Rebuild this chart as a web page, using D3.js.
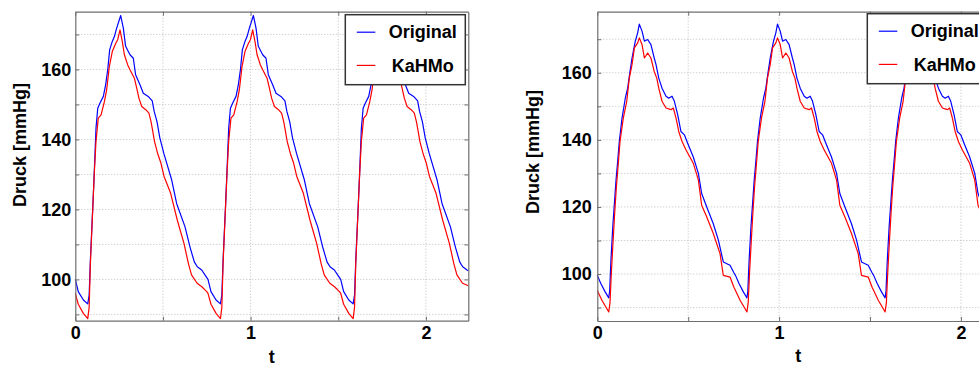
<!DOCTYPE html>
<html>
<head>
<meta charset="utf-8">
<script src="https://cdn.jsdelivr.net/npm/d3@7"></script>
<style>
  html, body { margin: 0; padding: 0; background: #fff; overflow: hidden; }
  svg { display: block; }
  text { font-family: "Liberation Sans", Arial, Helvetica, sans-serif; font-weight: bold; }
</style>
</head>
<body>
<svg id="chart" width="979" height="367"></svg>
<script>
// ---------------- DATA ----------------
const seriesNames = ["Original", "KaHMo"];
const xTickValues = [0, 0.5, 1, 1.5, 2];
const yTickValues = [90, 100, 110, 120, 130, 140, 150, 160, 170];
const xLabelText = "t";
const yLabelText = "Druck [mmHg]";

// Left panel – Original (blue)
const leftOriginalTime = [
  0.000,0.017,0.046,0.071,0.079,0.086,0.099,0.108,0.118,0.128,0.141,0.160,0.173,0.185,0.196,0.211,0.223,0.236,0.259,0.274,0.287,0.312,0.331,0.344,0.369,0.388,0.416,0.439,0.450,0.466,0.482,0.505,0.550,0.578,0.626,0.654,0.679,0.696,0.721,0.750,
  0.757,0.774,0.803,0.828,0.836,0.843,0.856,0.865,0.875,0.885,0.898,0.917,0.930,0.942,0.953,0.968,0.980,0.993,1.016,1.031,1.044,1.069,1.088,1.101,1.126,1.145,1.173,1.196,1.207,1.223,1.239,1.262,1.307,1.335,1.383,1.411,1.436,1.453,1.478,1.507,
  1.514,1.531,1.560,1.585,1.593,1.600,1.613,1.622,1.632,1.642,1.655,1.674,1.687,1.699,1.710,1.725,1.737,1.750,1.773,1.788,1.801,1.826,1.845,1.858,1.883,1.902,1.930,1.953,1.964,1.980,1.996,2.019,2.064,2.092,2.140,2.168,2.193,2.210,2.235,2.242
];
const leftOriginal = [
  100.0,96.5,94.1,93.0,95.5,105.5,119.8,130.3,143.2,148.9,150.4,152.3,155.6,159.9,165.6,168.0,169.4,171.8,175.4,171.8,166.6,164.2,163.2,158.5,155.6,153.2,152.3,151.0,148.0,145.1,140.5,136.0,128.4,121.7,115.0,109.3,105.0,103.6,102.7,100.5,
  100.0,96.5,94.1,93.0,95.5,105.5,119.8,130.3,143.2,148.9,150.4,152.3,155.6,159.9,165.6,168.0,169.4,171.8,175.4,171.8,166.6,164.2,163.2,158.5,155.6,153.2,152.3,151.0,148.0,145.1,140.5,136.0,128.4,121.7,115.0,109.3,105.0,103.6,102.7,100.5,
  100.0,96.5,94.1,93.0,95.5,105.5,119.8,130.3,143.2,148.9,150.4,152.3,155.6,159.9,165.6,168.0,169.4,171.8,175.4,171.8,166.6,164.2,163.2,158.5,155.6,153.2,152.3,151.0,148.0,145.1,140.5,136.0,128.4,121.7,115.0,109.3,105.0,103.6,102.7,102.5
];

// Left panel – KaHMo (red)
const leftKahmoTime = [
  0.000,0.017,0.046,0.071,0.079,0.086,0.099,0.108,0.118,0.131,0.147,0.166,0.179,0.194,0.211,0.231,0.242,0.255,0.268,0.280,0.299,0.312,0.337,0.350,0.363,0.379,0.402,0.420,0.432,0.442,0.452,0.472,0.487,0.506,0.544,0.582,0.620,0.645,0.663,0.695,0.722,0.750,
  0.757,0.774,0.803,0.828,0.836,0.843,0.856,0.865,0.875,0.888,0.904,0.923,0.936,0.951,0.968,0.988,0.999,1.012,1.025,1.037,1.056,1.069,1.094,1.107,1.120,1.136,1.159,1.177,1.189,1.199,1.209,1.229,1.244,1.263,1.301,1.339,1.377,1.402,1.420,1.452,1.479,1.507,
  1.514,1.531,1.560,1.585,1.593,1.600,1.613,1.622,1.632,1.645,1.661,1.680,1.693,1.708,1.725,1.745,1.756,1.769,1.782,1.794,1.813,1.826,1.851,1.864,1.877,1.893,1.916,1.934,1.946,1.956,1.966,1.986,2.001,2.020,2.058,2.096,2.134,2.159,2.177,2.209,2.242
];
const leftKahmo = [
  96.0,92.9,90.3,88.8,92.0,104.5,119.5,130.0,139.4,146.1,147.0,150.8,154.2,160.8,165.1,167.5,168.5,171.3,168.0,164.2,161.3,159.9,157.5,154.7,151.8,149.4,148.5,147.5,145.1,142.3,139.4,135.6,133.5,129.5,124.6,116.9,110.3,104.6,101.3,98.9,97.9,96.5,
  96.0,92.9,90.3,88.8,92.0,104.5,119.5,130.0,139.4,146.1,147.0,150.8,154.2,160.8,165.1,167.5,168.5,171.3,168.0,164.2,161.3,159.9,157.5,154.7,151.8,149.4,148.5,147.5,145.1,142.3,139.4,135.6,133.5,129.5,124.6,116.9,110.3,104.6,101.3,98.9,97.9,96.5,
  96.0,92.9,90.3,88.8,92.0,104.5,119.5,130.0,139.4,146.1,147.0,150.8,154.2,160.8,165.1,167.5,168.5,171.3,168.0,164.2,161.3,159.9,157.5,154.7,151.8,149.4,148.5,147.5,145.1,142.3,139.4,135.6,133.5,129.5,124.6,116.9,110.3,104.6,101.3,98.9,98.2
];

// Right panel – Original (blue)
const rightOriginalTime = [
  0.000,0.020,0.044,0.063,0.068,0.075,0.085,0.094,0.103,0.112,0.121,0.136,0.154,0.167,0.180,0.191,0.209,0.222,0.231,0.246,0.259,0.277,0.295,0.313,0.323,0.338,0.356,0.378,0.393,0.411,0.424,0.442,0.460,0.479,0.497,0.528,0.556,0.574,0.602,0.638,0.666,0.693,0.730,0.752,
  0.760,0.780,0.804,0.823,0.828,0.835,0.845,0.854,0.863,0.872,0.881,0.896,0.914,0.927,0.940,0.951,0.969,0.982,0.991,1.006,1.019,1.037,1.055,1.073,1.083,1.098,1.116,1.138,1.153,1.171,1.184,1.202,1.220,1.239,1.257,1.288,1.316,1.334,1.362,1.398,1.426,1.453,1.490,1.512,
  1.520,1.540,1.564,1.583,1.588,1.595,1.605,1.614,1.623,1.632,1.641,1.656,1.674,1.687,1.700,1.711,1.729,1.742,1.751,1.766,1.779,1.797,1.815,1.833,1.843,1.858,1.876,1.898,1.913,1.931,1.944,1.962,1.980,1.999,2.017,2.048,2.076,2.094,2.122,2.158
];
const rightOriginal = [
  99.6,97.1,94.6,92.9,95.0,104.1,114.0,121.0,128.0,133.5,139.5,146.5,152.4,155.4,160.4,164.4,169.4,171.9,174.5,172.4,169.4,169.9,168.4,164.4,162.4,158.4,155.4,153.0,152.4,153.0,151.5,147.5,142.5,141.5,139.0,134.9,130.0,124.0,120.0,115.0,110.1,103.6,102.6,100.3,
  99.6,97.1,94.6,92.9,95.0,104.1,114.0,121.0,128.0,133.5,139.5,146.5,152.4,155.4,160.4,164.4,169.4,171.9,174.5,172.4,169.4,169.9,168.4,164.4,162.4,158.4,155.4,153.0,152.4,153.0,151.5,147.5,142.5,141.5,139.0,134.9,130.0,124.0,120.0,115.0,110.1,103.6,102.6,100.3,
  99.6,97.1,94.6,92.9,95.0,104.1,114.0,121.0,128.0,133.5,139.5,146.5,152.4,155.4,160.4,164.4,169.4,171.9,174.5,172.4,169.4,169.9,168.4,164.4,162.4,158.4,155.4,153.0,152.4,153.0,151.5,147.5,142.5,141.5,139.0,134.9,130.0,124.0,120.0,115.0
];

// Right panel – KaHMo (red)
const rightKahmoTime = [
  0.000,0.026,0.048,0.063,0.070,0.077,0.087,0.096,0.105,0.114,0.125,0.143,0.162,0.176,0.191,0.204,0.222,0.231,0.246,0.259,0.277,0.295,0.313,0.327,0.338,0.356,0.378,0.405,0.418,0.433,0.448,0.466,0.488,0.528,0.556,0.574,0.602,0.638,0.675,0.693,0.730,0.752,
  0.760,0.786,0.808,0.823,0.830,0.837,0.847,0.856,0.865,0.874,0.885,0.903,0.922,0.936,0.951,0.964,0.982,0.991,1.006,1.019,1.037,1.055,1.073,1.087,1.098,1.116,1.138,1.165,1.178,1.193,1.208,1.226,1.248,1.288,1.316,1.334,1.362,1.398,1.435,1.453,1.490,1.512,
  1.520,1.546,1.568,1.583,1.590,1.597,1.607,1.616,1.625,1.634,1.645,1.663,1.682,1.696,1.711,1.724,1.742,1.751,1.766,1.779,1.797,1.815,1.833,1.847,1.858,1.876,1.898,1.925,1.938,1.953,1.968,1.986,2.008,2.048,2.076,2.094,2.122,2.158
];
const rightKahmo = [
  95.1,92.1,90.1,88.7,91.5,100.0,110.0,118.5,126.0,132.0,139.5,146.5,151.5,158.4,162.4,167.4,168.9,170.4,168.4,164.4,165.9,164.4,160.4,158.4,155.4,151.5,149.5,149.0,149.5,146.5,142.5,139.5,137.0,133.0,128.0,120.5,117.0,112.1,106.1,99.6,99.1,96.0,
  95.1,92.1,90.1,88.7,91.5,100.0,110.0,118.5,126.0,132.0,139.5,146.5,151.5,158.4,162.4,167.4,168.9,170.4,168.4,164.4,165.9,164.4,160.4,158.4,155.4,151.5,149.5,149.0,149.5,146.5,142.5,139.5,137.0,133.0,128.0,120.5,117.0,112.1,106.1,99.6,99.1,96.0,
  95.1,92.1,90.1,88.7,91.5,100.0,110.0,118.5,126.0,132.0,139.5,146.5,151.5,158.4,162.4,167.4,168.9,170.4,168.4,164.4,165.9,164.4,160.4,158.4,155.4,151.5,149.5,149.0,149.5,146.5,142.5,139.5,137.0,133.0,128.0,120.5,117.0,112.1
];

// ---------------- DRAW ----------------
const svg = d3.select("#chart");
const colors = { Original: "#0000ff", KaHMo: "#ff0000" };

function zip(t, v) { return t.map((d, i) => [d, v[i]]); }

function panel(cfg) {
  const x = d3.scaleLinear().domain(cfg.xDomain).range([cfg.left, cfg.right]);
  const y = d3.scaleLinear().domain(cfg.yDomain).range([cfg.bottom, cfg.top]);
  const g = svg.append("g");

  // grid
  const grid = g.append("g").attr("stroke", "#bdbdbd").attr("stroke-width", 1)
    .attr("stroke-dasharray", "1,2");
  xTickValues.filter(d => d > cfg.xDomain[0] && d < cfg.xDomain[1]).forEach(d => {
    grid.append("line").attr("x1", x(d)).attr("x2", x(d)).attr("y1", cfg.top).attr("y2", cfg.bottom);
  });
  yTickValues.filter(d => d > cfg.yDomain[0] && d < cfg.yDomain[1]).forEach(d => {
    grid.append("line").attr("y1", y(d)).attr("y2", y(d)).attr("x1", cfg.left).attr("x2", cfg.right);
  });

  // lines
  const line = d3.line().x(d => x(d[0])).y(d => y(d[1]));
  cfg.series.forEach(s => {
    g.append("path").datum(zip(s.t, s.v))
      .attr("fill", "none").attr("stroke", colors[s.name]).attr("stroke-width", 1.2)
      .attr("stroke-linejoin", "round").attr("d", line);
  });

  // axes (inward ticks, MATLAB style)
  const axisColor = "#6e6e6e";
  const style = sel => {
    sel.select(".domain").attr("stroke", axisColor).attr("stroke-width", 1.2);
    sel.selectAll(".tick line").attr("stroke", axisColor);
    sel.selectAll("text").attr("font-size", "18px").attr("font-weight", "bold")
      .attr("fill", "#000").attr("font-family", "'Liberation Sans', Arial, sans-serif");
  };
  g.append("g").attr("transform", `translate(0,${cfg.bottom})`)
    .call(d3.axisBottom(x).tickValues(xTickValues).tickSizeInner(-4).tickSizeOuter(0)
      .tickPadding(cfg.xPad).tickFormat(d => Number.isInteger(d) ? d3.format("d")(d) : ""))
    .call(style);
  g.append("g").attr("transform", `translate(0,${cfg.top})`)
    .call(d3.axisTop(x).tickValues(xTickValues).tickSizeInner(-4).tickSizeOuter(0).tickFormat(""))
    .call(style);
  g.append("g").attr("transform", `translate(${cfg.left},0)`)
    .call(d3.axisLeft(y).tickValues(yTickValues).tickSizeInner(-4).tickSizeOuter(0)
      .tickPadding(cfg.yPad).tickFormat(d => d % 20 === 0 ? d3.format("d")(d) : ""))
    .call(style);
  g.append("g").attr("transform", `translate(${cfg.right},0)`)
    .call(d3.axisRight(y).tickValues(yTickValues).tickSizeInner(-4).tickSizeOuter(0).tickFormat(""))
    .call(style);

  // axis labels
  g.append("text").attr("x", cfg.xLabel[0]).attr("y", cfg.xLabel[1])
    .attr("text-anchor", "middle").attr("font-size", "18px").text(xLabelText);
  g.append("text")
    .attr("transform", `translate(${cfg.yLabel[0]},${cfg.yLabel[1]}) rotate(-90)`)
    .attr("text-anchor", "middle").attr("dy", "0.35em").attr("font-size", "18px").text(yLabelText);

  // legend
  const L = cfg.legend;
  const lg = g.append("g").attr("transform", `translate(${L.x},${L.y})`);
  lg.append("rect").attr("width", 120).attr("height", 70).attr("fill", "#fff")
    .attr("stroke", "#333").attr("stroke-width", 1.5);
  seriesNames.forEach((name, i) => {
    const yy = 17.5 + i * 33.2;
    lg.append("line").attr("x1", 11.5).attr("x2", 30).attr("y1", yy).attr("y2", yy)
      .attr("stroke", colors[name]).attr("stroke-width", 1.2);
    lg.append("text").attr("x", 77.5).attr("y", yy).attr("dy", "0.35em")
      .attr("text-anchor", "middle").attr("font-size", "18px").text(name);
  });
}

panel({
  xDomain: [0, 2.242], yDomain: [88.2, 176.5],
  left: 75.3, right: 468.3, top: 11.7, bottom: 320.7,
  xPad: 6, yPad: 4,
  xLabel: [271.7, 362.5], yLabel: [20, 145],
  legend: { x: 345.3, y: 14.7 },
  series: [
    { name: "Original", t: leftOriginalTime, v: leftOriginal },
    { name: "KaHMo", t: leftKahmoTime, v: leftKahmo }
  ]
});

panel({
  xDomain: [0, 2.2], yDomain: [86.0, 178.2],
  left: 597.3, right: 997.3, top: 11.7, bottom: 321,
  xPad: 5, yPad: 5.5,
  xLabel: [798.3, 361.5], yLabel: [532.7, 152],
  legend: { x: 867.3, y: 13.7 },
  series: [
    { name: "Original", t: rightOriginalTime, v: rightOriginal },
    { name: "KaHMo", t: rightKahmoTime, v: rightKahmo }
  ]
});
</script>
</body>
</html>
